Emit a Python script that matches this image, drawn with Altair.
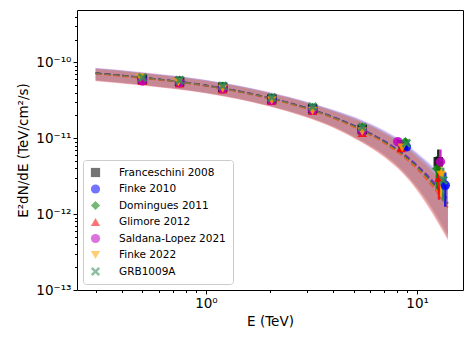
import altair as alt
import pandas as pd

# ---------------- data ----------------
MODELS = ["Franceschini 2008", "Finke 2010", "Domingues 2011", "Glimore 2012",
          "Saldana-Lopez 2021", "Finke 2022", "GRB1009A"]
COLORS = ["#000000", "#0000ff", "#008000", "#ff0000", "#bf00bf", "#ffa500", "#2e8b57"]
X_PATH = "M-1,-0.6L-0.6,-1L0,-0.4L0.6,-1L1,-0.6L0.4,0L1,0.6L0.6,1L0,0.4L-0.6,1L-1,0.6L-0.4,0Z"
SHAPES = ["square", "circle", "diamond", "triangle-up", "circle", "triangle-down", X_PATH]
BAND_OPACITY = [0.12, 0.14, 0.04, 0.18, 0.15, 0.16, 0.04]

# model curves
E_CURVE = [0.3, 0.5, 1.0, 2.0, 3.0, 4.0, 5.5, 7.0, 8.5, 10.0, 11.5, 12.5, 14.0]
CENTER = {
    "Franceschini 2008": [7.2e-11, 6.3e-11, 4.96e-11, 3.38e-11, 2.49e-11, 1.89e-11, 1.29e-11, 9.0e-12, 6.2e-12, 4.2e-12, 2.8e-12, 2.12e-12, 1.39e-12],
    "Finke 2010":        [7.2e-11, 6.3e-11, 4.97e-11, 3.4e-11, 2.51e-11, 1.91e-11, 1.31e-11, 9.2e-12, 6.45e-12, 4.4e-12, 3.0e-12, 2.3e-12, 1.55e-12],
    "Domingues 2011":    [7.2e-11, 6.3e-11, 4.96e-11, 3.38e-11, 2.49e-11, 1.89e-11, 1.28e-11, 8.95e-12, 6.15e-12, 4.15e-12, 2.75e-12, 2.08e-12, 1.35e-12],
    "Glimore 2012":      [7.1e-11, 6.2e-11, 4.9e-11, 3.34e-11, 2.45e-11, 1.85e-11, 1.25e-11, 8.65e-12, 5.9e-12, 3.95e-12, 2.58e-12, 1.92e-12, 1.22e-12],
    "Saldana-Lopez 2021":[7.2e-11, 6.3e-11, 4.97e-11, 3.39e-11, 2.5e-11, 1.9e-11, 1.3e-11, 9.1e-12, 6.35e-12, 4.3e-12, 2.9e-12, 2.2e-12, 1.47e-12],
    "Finke 2022":        [7.1e-11, 6.22e-11, 4.92e-11, 3.35e-11, 2.46e-11, 1.86e-11, 1.26e-11, 8.75e-12, 6.0e-12, 4.05e-12, 2.66e-12, 2.0e-12, 1.28e-12],
    "GRB1009A":          [7.2e-11, 6.3e-11, 4.96e-11, 3.38e-11, 2.49e-11, 1.89e-11, 1.29e-11, 9.0e-12, 6.2e-12, 4.2e-12, 2.8e-12, 2.12e-12, 1.39e-12],
}
BAND_HI = {
    "Franceschini 2008": [8.35e-11, 7.3e-11, 5.8e-11, 3.99e-11, 2.99e-11, 2.32e-11, 1.68e-11, 1.21e-11, 8.7e-12, 6.1e-12, 4.3e-12, 3.4e-12, 2.4e-12],
    "Finke 2010":        [8.4e-11, 7.35e-11, 5.85e-11, 4.03e-11, 3.03e-11, 2.37e-11, 1.74e-11, 1.27e-11, 9.2e-12, 6.5e-12, 4.7e-12, 3.75e-12, 2.65e-12],
    "Domingues 2011":    [8.35e-11, 7.3e-11, 5.8e-11, 3.99e-11, 2.99e-11, 2.32e-11, 1.67e-11, 1.2e-11, 8.6e-12, 6.0e-12, 4.2e-12, 3.3e-12, 2.3e-12],
    "Glimore 2012":      [8.2e-11, 7.2e-11, 5.7e-11, 3.92e-11, 2.92e-11, 2.25e-11, 1.61e-11, 1.15e-11, 8.2e-12, 5.6e-12, 3.9e-12, 3.05e-12, 2.1e-12],
    "Saldana-Lopez 2021":[8.5e-11, 7.45e-11, 5.9e-11, 4.06e-11, 3.04e-11, 2.37e-11, 1.72e-11, 1.25e-11, 9.0e-12, 6.3e-12, 4.5e-12, 3.6e-12, 2.55e-12],
    "Finke 2022":        [8.25e-11, 7.25e-11, 5.73e-11, 3.94e-11, 2.94e-11, 2.27e-11, 1.63e-11, 1.17e-11, 8.35e-12, 5.75e-12, 4.0e-12, 3.15e-12, 2.2e-12],
    "GRB1009A":          [8.35e-11, 7.3e-11, 5.8e-11, 3.99e-11, 2.99e-11, 2.32e-11, 1.68e-11, 1.21e-11, 8.7e-12, 6.1e-12, 4.3e-12, 3.4e-12, 2.4e-12],
}
BAND_LO = {
    "Franceschini 2008": [5.76e-11, 5.04e-11, 3.97e-11, 2.67e-11, 1.92e-11, 1.42e-11, 9.0e-12, 5.9e-12, 3.7e-12, 2.2e-12, 1.26e-12, 8.5e-13, 4.9e-13],
    "Finke 2010":        [5.8e-11, 5.06e-11, 3.99e-11, 2.69e-11, 1.94e-11, 1.44e-11, 9.2e-12, 6.1e-12, 3.85e-12, 2.3e-12, 1.35e-12, 9.2e-13, 5.4e-13],
    "Domingues 2011":    [5.76e-11, 5.04e-11, 3.97e-11, 2.67e-11, 1.92e-11, 1.42e-11, 8.9e-12, 5.85e-12, 3.65e-12, 2.15e-12, 1.22e-12, 8.3e-13, 4.8e-13],
    "Glimore 2012":      [5.7e-11, 4.96e-11, 3.92e-11, 2.63e-11, 1.88e-11, 1.38e-11, 8.7e-12, 5.6e-12, 3.5e-12, 2.05e-12, 1.15e-12, 7.9e-13, 4.6e-13],
    "Saldana-Lopez 2021":[5.65e-11, 4.95e-11, 3.9e-11, 2.62e-11, 1.88e-11, 1.39e-11, 8.7e-12, 5.6e-12, 3.5e-12, 2.05e-12, 1.15e-12, 7.8e-13, 4.5e-13],
    "Finke 2022":        [5.7e-11, 4.98e-11, 3.93e-11, 2.64e-11, 1.89e-11, 1.39e-11, 8.8e-12, 5.7e-12, 3.6e-12, 2.1e-12, 1.2e-12, 8.2e-13, 4.8e-13],
    "GRB1009A":          [5.76e-11, 5.04e-11, 3.97e-11, 2.67e-11, 1.92e-11, 1.42e-11, 9.0e-12, 5.9e-12, 3.7e-12, 2.2e-12, 1.26e-12, 8.5e-13, 4.9e-13],
}

# measured (deabsorbed) points
E_PTS = {
    "Franceschini 2008": [0.5, 0.75, 1.2, 2.05, 3.2, 5.5, 8.6, 12.6],
    "Finke 2010":        [0.5, 0.75, 1.2, 2.05, 3.2, 5.5, 8.9, 13.6],
    "Domingues 2011":    [0.5, 0.75, 1.2, 2.05, 3.2, 5.5, 8.8, 12.4],
    "Glimore 2012":      [0.5, 0.75, 1.2, 2.05, 3.2, 5.5, 8.4, 12.7],
    "Saldana-Lopez 2021":[0.5, 0.75, 1.2, 2.05, 3.2, 5.5, 8.1, 12.9],
    "Finke 2022":        [0.49, 0.74, 1.2, 2.05, 3.2, 5.5, 8.5, 13.0],
    "GRB1009A":          [0.5, 0.75, 1.2, 2.05, 3.2, 5.5, 8.9, 13.3],
}
FLUX = {
    "Franceschini 2008": [6.0e-11, 5.6e-11, 4.7e-11, 3.3e-11, 2.45e-11, 1.3e-11, 8.2e-12, 4.9e-12],
    "Finke 2010":        [6.0e-11, 5.6e-11, 4.7e-11, 3.3e-11, 2.45e-11, 1.3e-11, 7.7e-12, 2.4e-12],
    "Domingues 2011":    [6.2e-11, 5.8e-11, 4.85e-11, 3.4e-11, 2.55e-11, 1.4e-11, 9.0e-12, 4.0e-12],
    "Glimore 2012":      [5.7e-11, 5.3e-11, 4.4e-11, 3.1e-11, 2.3e-11, 1.18e-11, 7.4e-12, 3.0e-12],
    "Saldana-Lopez 2021":[5.7e-11, 5.4e-11, 4.5e-11, 3.15e-11, 2.35e-11, 1.25e-11, 9.0e-12, 4.9e-12],
    "Finke 2022":        [6.3e-11, 5.5e-11, 4.5e-11, 3.15e-11, 2.3e-11, 1.22e-11, 7.5e-12, 3.3e-12],
    "GRB1009A":          [6.3e-11, 5.8e-11, 4.9e-11, 3.45e-11, 2.6e-11, 1.4e-11, 8.6e-12, 2.8e-12],
}
FLUX_ERR = {
    "Franceschini 2008": [1.5e-12, 1.3e-12, 1.1e-12, 0.9e-12, 0.8e-12, 0.7e-12, 0.8e-12, 2.2e-12],
    "Finke 2010":        [1.5e-12, 1.3e-12, 1.1e-12, 0.9e-12, 0.8e-12, 0.7e-12, 0.8e-12, 1.15e-12],
    "Domingues 2011":    [1.5e-12, 1.3e-12, 1.1e-12, 0.9e-12, 0.8e-12, 0.7e-12, 0.8e-12, 1.8e-12],
    "Glimore 2012":      [1.5e-12, 1.3e-12, 1.1e-12, 0.9e-12, 0.8e-12, 0.7e-12, 0.8e-12, 1.45e-12],
    "Saldana-Lopez 2021":[1.5e-12, 1.3e-12, 1.1e-12, 0.9e-12, 0.8e-12, 0.7e-12, 0.8e-12, 2.2e-12],
    "Finke 2022":        [1.5e-12, 1.3e-12, 1.1e-12, 0.9e-12, 0.8e-12, 0.7e-12, 0.8e-12, 1.6e-12],
    "GRB1009A":          [1.5e-12, 1.3e-12, 1.1e-12, 0.9e-12, 0.8e-12, 0.7e-12, 0.8e-12, 1.3e-12],
}

X_MAJOR = [1, 10]
X_MINOR = [0.3, 0.4, 0.5, 0.6, 0.7, 0.8, 0.9, 2, 3, 4, 5, 6, 7, 8, 9]
Y_MAJOR = [1e-13, 1e-12, 1e-11, 1e-10]
Y_MINOR = [m * 10.0 ** p for p in (-13, -12, -11, -10) for m in range(2, 10) if m * 10.0 ** p < 4.9e-10]

# ---------------- tables ----------------
curve_rows, pt_rows = [], []
for i, m in enumerate(MODELS):
    for j, e in enumerate(E_CURVE):
        curve_rows.append(dict(model=m, order=i, col=COLORS[i], op=BAND_OPACITY[i], E=e,
                               c=CENTER[m][j], lo=BAND_LO[m][j], hi=BAND_HI[m][j]))
    for j, e in enumerate(E_PTS[m]):
        f, d = FLUX[m][j], FLUX_ERR[m][j]
        pt_rows.append(dict(model=m, col=COLORS[i], E=e, f=f, lo=f - d, hi=f + d))
curves = pd.DataFrame(curve_rows)
pts = pd.DataFrame(pt_rows)

FONT = "DejaVu Sans"
W, H = 386, 280
xs = alt.Scale(type="log", domain=[0.245, 16.5], nice=False)
ys = alt.Scale(type="log", domain=[1e-13, 4.9e-10], nice=False)

x_label = "datum.value < 5 ? '10⁰' : '10¹'"
y_label = ("datum.value < 5e-13 ? '10⁻¹³' : datum.value < 5e-12 ? '10⁻¹²' : "
           "datum.value < 5e-11 ? '10⁻¹¹' : '10⁻¹⁰'")

x_major = alt.Axis(values=X_MAJOR, labelExpr=x_label, title="E (TeV)", grid=False,
                   tickSize=4, tickColor="black", domain=False, labelFont=FONT,
                   labelFontSize=13.5, labelColor="black", labelPadding=2,
                   titleFont=FONT, titleFontSize=13.5, titleFontWeight="normal",
                   titleColor="black", titleY=35, titleBaseline="alphabetic")
y_major = alt.Axis(values=Y_MAJOR, labelExpr=y_label, title="E²dN/dE (TeV/cm²/s)",
                   grid=False, tickSize=4, tickColor="black", domain=False,
                   labelFont=FONT, labelFontSize=13.5, labelColor="black",
                   labelPadding=2, titleFont=FONT, titleFontSize=13.5,
                   titleFontWeight="normal", titleColor="black", titleX=-50,
                   titleY=H / 2, titleAngle=270, titleBaseline="alphabetic",
                   titleAlign="center")
x_minor = alt.Axis(values=X_MINOR, labels=False, title=None, grid=False, tickSize=2.5,
                   tickColor="black", domain=False, orient="bottom")
y_minor = alt.Axis(values=Y_MINOR, labels=False, title=None, grid=False, tickSize=2.5,
                   tickColor="black", domain=False, orient="left")

bands = alt.Chart(curves).mark_area(interpolate="monotone").encode(
    x=alt.X("E:Q", scale=xs, axis=x_major),
    y=alt.Y("lo:Q", scale=ys, axis=y_major, stack=None),
    y2="hi:Q",
    color=alt.Color("col:N", scale=None),
    opacity=alt.Opacity("op:Q", scale=None),
    detail="model:N",
    order="order:Q",
)

lines = alt.Chart(curves).mark_line(interpolate="monotone", strokeDash=[6, 3],
                                    strokeWidth=1.6, opacity=0.55).encode(
    x=alt.X("E:Q", scale=xs, axis=None),
    y=alt.Y("c:Q", scale=ys, axis=None),
    color=alt.Color("col:N", scale=None),
    detail="model:N",
)

errs = alt.Chart(pts).mark_rule(strokeWidth=2.4, opacity=0.85).encode(
    x=alt.X("E:Q", scale=xs, axis=None),
    y=alt.Y("lo:Q", scale=ys, axis=None),
    y2="hi:Q",
    color=alt.Color("col:N", scale=None),
)

legend = alt.Legend(title=None, orient="none", legendX=6, legendY=150,
                    labelFont=FONT, labelFontSize=10.5, labelColor="black",
                    symbolSize=85, symbolOpacity=0.85, rowPadding=5.5,
                    labelOffset=18, padding=7, strokeColor="#cccccc",
                    fillColor="white", cornerRadius=3)

points = alt.Chart(pts).mark_point(filled=True, size=90, opacity=0.85).encode(
    x=alt.X("E:Q", scale=xs, axis=None),
    y=alt.Y("f:Q", scale=ys, axis=None),
    color=alt.Color("model:N", scale=alt.Scale(domain=MODELS, range=COLORS),
                    sort=MODELS, legend=legend),
    shape=alt.Shape("model:N", scale=alt.Scale(domain=MODELS, range=SHAPES),
                    sort=MODELS, legend=legend),
)

minor = alt.Chart(pts).mark_point(opacity=0).encode(
    x=alt.X("E:Q", scale=xs, axis=x_minor),
    y=alt.Y("f:Q", scale=ys, axis=y_minor),
)

chart = alt.layer(bands, lines, errs, points, minor).resolve_axis(
    x="independent", y="independent"
).properties(
    width=W, height=H,
    autosize=alt.AutoSizeParams(type="none"),
    padding={"left": 69, "top": 2, "right": 5, "bottom": 40},
).configure_view(stroke="black", strokeWidth=1)

chart.save("out.html", embed_options={"renderer": "svg", "actions": False})
